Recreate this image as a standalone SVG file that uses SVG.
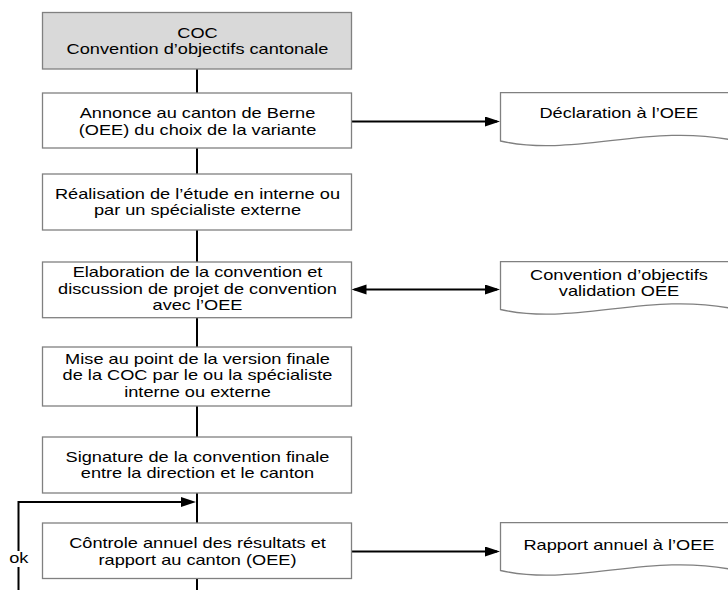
<svg xmlns="http://www.w3.org/2000/svg" width="728" height="590" viewBox="0 0 728 590">
<style>
.box{fill:#ffffff;stroke:#808080;stroke-width:1.3}
.head{fill:#d9d9d9;stroke:#808080;stroke-width:1.3}
.doc{fill:#ffffff;stroke:#808080;stroke-width:1.3}
.t{font-family:"Liberation Sans",Arial,sans-serif;font-size:14px;fill:#000000;text-anchor:middle}
.c{fill:none;stroke:#000000;stroke-width:2}
</style>
<defs>
<marker id="arr" markerUnits="userSpaceOnUse" markerWidth="16" markerHeight="11" refX="12" refY="5" orient="auto-start-reverse" viewBox="0 0 16 11">
<path d="M0,0 L15,5 L0,10 Z" fill="#000000"/>
</marker>
</defs>
<rect width="728" height="590" fill="#ffffff"/>
<g id="connectors">
<line class="c" x1="197" y1="69" x2="197" y2="93"/>
<line class="c" x1="197" y1="148" x2="197" y2="174"/>
<line class="c" x1="197" y1="230" x2="197" y2="262"/>
<line class="c" x1="197" y1="318" x2="197" y2="347"/>
<line class="c" x1="197" y1="406" x2="197" y2="437"/>
<line class="c" x1="197" y1="493" x2="197" y2="523"/>
<line class="c" x1="197" y1="579" x2="197" y2="590"/>
<line class="c" x1="351.5" y1="121.5" x2="497" y2="121.5" marker-end="url(#arr)"/>
<line class="c" x1="354.5" y1="289.5" x2="497" y2="289.5" marker-start="url(#arr)" marker-end="url(#arr)"/>
<line class="c" x1="351.5" y1="551.5" x2="497" y2="551.5" marker-end="url(#arr)"/>
<path class="c" d="M18.5,551 V502 H193" marker-end="url(#arr)"/>
<line class="c" x1="18.5" y1="567" x2="18.5" y2="590"/>
<text class="t" transform="matrix(1.3 0 0 1 18.8 0)" x="0" y="563.5">ok</text>
</g>
<g id="n1">
<rect class="head" x="42.5" y="12.5" width="309" height="56.5"/>
<g transform="matrix(1.3 0 0 1 197.5 0)">
<text class="t" x="0" y="37.7">COC</text>
<text class="t" x="0" y="54">Convention d’objectifs cantonale</text>
</g>
</g>
<g id="n2">
<rect class="box" x="42.5" y="93" width="309" height="55"/>
<g transform="matrix(1.3 0 0 1 197.5 0)">
<text class="t" x="0" y="118.5">Annonce au canton de Berne</text>
<text class="t" x="0" y="134.7">(OEE) du choix de la variante</text>
</g>
</g>
<g id="n3">
<rect class="box" x="42.5" y="174" width="309" height="56"/>
<g transform="matrix(1.3 0 0 1 197.5 0)">
<text class="t" x="0" y="199">Réalisation de l’étude en interne ou</text>
<text class="t" x="0" y="215.5">par un spécialiste externe</text>
</g>
</g>
<g id="n4">
<rect class="box" x="42.5" y="262" width="309" height="55.7"/>
<g transform="matrix(1.3 0 0 1 197.5 0)">
<text class="t" x="0" y="277">Elaboration de la convention et</text>
<text class="t" x="0" y="293.7">discussion de projet de convention</text>
<text class="t" x="0" y="310.4">avec l’OEE</text>
</g>
</g>
<g id="n5">
<rect class="box" x="42.5" y="347" width="309" height="59"/>
<g transform="matrix(1.3 0 0 1 197.5 0)">
<text class="t" x="0" y="363.6">Mise au point de la version finale</text>
<text class="t" x="0" y="380.3">de la COC par le ou la spécialiste</text>
<text class="t" x="0" y="397">interne ou externe</text>
</g>
</g>
<g id="n6">
<rect class="box" x="42.5" y="437" width="309" height="56"/>
<g transform="matrix(1.3 0 0 1 197.5 0)">
<text class="t" x="0" y="462">Signature de la convention finale</text>
<text class="t" x="0" y="478.5">entre la direction et le canton</text>
</g>
</g>
<g id="n7">
<rect class="box" x="42.5" y="523" width="309" height="55.5"/>
<g transform="matrix(1.3 0 0 1 197.5 0)">
<text class="t" x="0" y="548.2">Côntrole annuel des résultats et</text>
<text class="t" x="0" y="564.6">rapport au canton (OEE)</text>
</g>
</g>
<g id="d1">
<path class="doc" d="M500.5,92.7 H737 V141 C650,122 575,158 500.5,141 Z"/>
<text class="t" transform="matrix(1.3 0 0 1 618.8 0)" x="0" y="118">Déclaration à l’OEE</text>
</g>
<g id="d2">
<path class="doc" d="M500.5,261.7 H737 V309.5 C650,290.5 575,326.5 500.5,309.5 Z"/>
<g transform="matrix(1.3 0 0 1 619 0)">
<text class="t" x="0" y="280">Convention d’objectifs</text>
<text class="t" x="0" y="296.5">validation OEE</text>
</g>
</g>
<g id="d3">
<path class="doc" d="M500.5,522.7 H737 V570.5 C650,551.5 575,587.5 500.5,570.5 Z"/>
<text class="t" transform="matrix(1.3 0 0 1 619 0)" x="0" y="550">Rapport annuel à l’OEE</text>
</g>
</svg>
